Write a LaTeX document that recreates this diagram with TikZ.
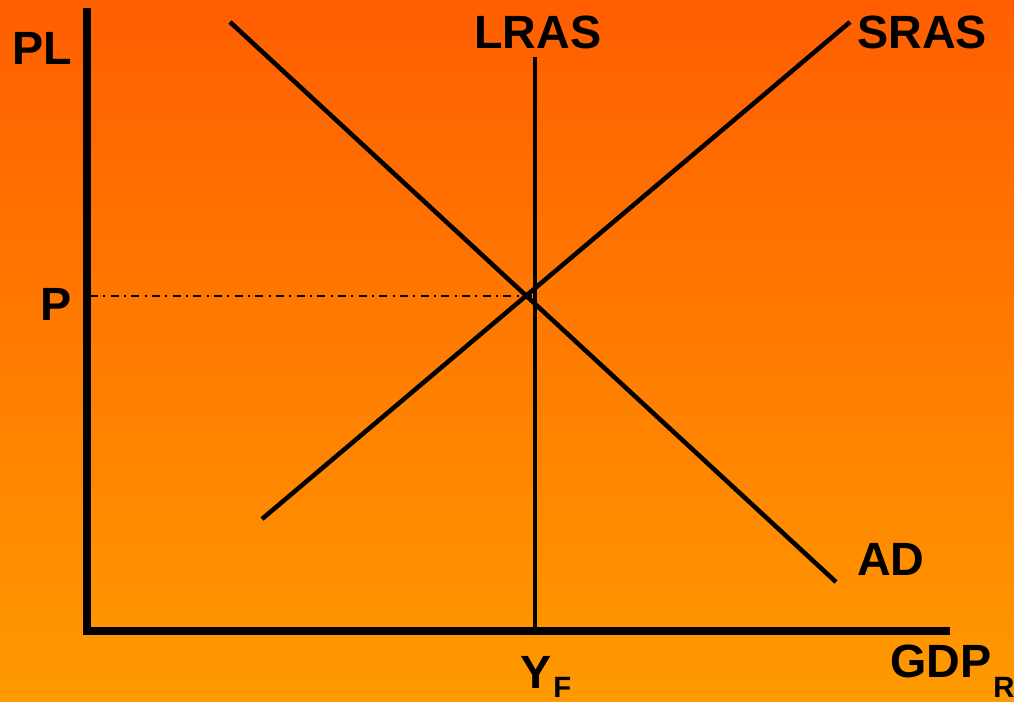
\documentclass[tikz,border=0pt]{standalone}
\usepackage{fontspec}
\setmainfont{Liberation Sans}
\definecolor{topc}{RGB}{255,94,0}
\definecolor{botc}{RGB}{255,154,0}
\tikzset{
  axis/.style={line width=6pt},
  curve/.style={line width=3.4pt},
  guide/.style={line width=1.1pt, dash pattern=on 6pt off 4pt on 1.5pt off 4pt},
  lbl/.style={anchor=base west, inner sep=0pt, font=\fontsize{35}{40}\selectfont\bfseries},
  sublbl/.style={anchor=base west, inner sep=0pt, font=\fontsize{22}{26}\selectfont\bfseries},
}
\begin{document}
\begin{tikzpicture}[x=0.75pt,y=-0.75pt]
\shade[top color=topc, bottom color=botc] (0,0) rectangle (1014,701);
\useasboundingbox (0,0) rectangle (1014,701);
% coordinates
\coordinate (ytop) at (87,8);
\coordinate (orig) at (87,631);
\coordinate (xend) at (950,631);
\coordinate (lrasTop) at (535,57);
\coordinate (lrasBot) at (535,631);
\coordinate (adTop) at (230,22);
\coordinate (adBot) at (836,582);
\coordinate (srasBot) at (262,519);
\coordinate (srasTop) at (850,22);
\coordinate (eq) at (533,296);
\coordinate (pAxis) at (90,296);
% axes
\draw[axis] (ytop) -- (orig) -- (xend);
% curves
\draw[curve] (lrasTop) -- (lrasBot);
\draw[curve] (adTop) -- (adBot);
\draw[curve] (srasBot) -- (srasTop);
\draw[guide] (pAxis) -- (eq);
% labels
\node[lbl] (pl) at (12,64) {PL};
\node[lbl] (lras) at (474,48) {LRAS};
\node[lbl] (sras) at (857,48) {SRAS};
\node[lbl] (p) at (40,320) {P};
\node[lbl] (ad) at (857,575) {AD};
\node[lbl] (yf) at (520,688) {Y};
\node[sublbl] (f) at (553,697) {F};
\node[lbl] (gdp) at (890,677) {GDP};
\node[sublbl] (r) at (993,697) {R};
\end{tikzpicture}
\end{document}
